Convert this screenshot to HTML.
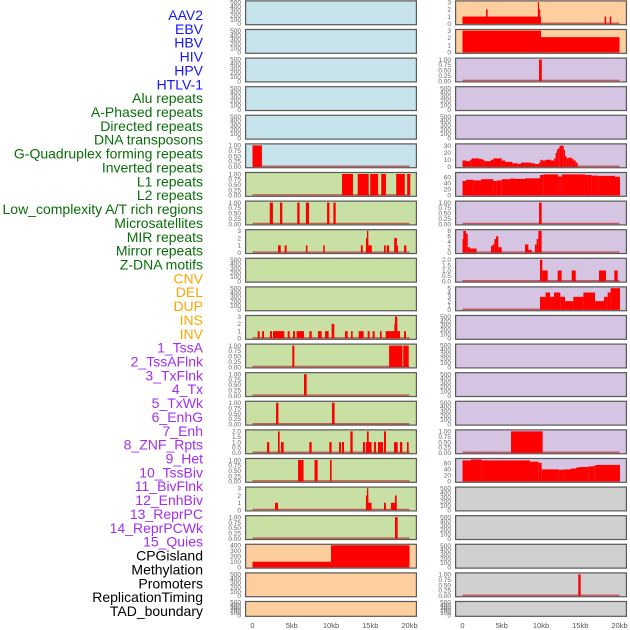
<!DOCTYPE html>
<html><head><meta charset="utf-8">
<style>
html,body{margin:0;padding:0;background:#fff;}
#chart{position:absolute;left:0;top:0;width:630px;height:630px;}
</style></head>
<body>
<svg id="chart" width="630" height="630" xmlns="http://www.w3.org/2000/svg"></svg>
<script>
// ---- labels ----
const trackLabels = ["AAV2","EBV","HBV","HIV","HPV","HTLV-1","Alu repeats","A-Phased repeats","Directed repeats","DNA transposons","G-Quadruplex forming repeats","Inverted repeats","L1 repeats","L2 repeats","Low_complexity A/T rich regions","Microsatellites","MIR repeats","Mirror repeats","Z-DNA motifs","CNV","DEL","DUP","INS","INV","1_TssA","2_TssAFlnk","3_TxFlnk","4_Tx","5_TxWk","6_EnhG","7_Enh","8_ZNF_Rpts","9_Het","10_TssBiv","11_BivFlnk","12_EnhBiv","13_ReprPC","14_ReprPCWk","15_Quies","CPGisland","Methylation","Promoters","ReplicationTiming","TAD_boundary"];
const labelGroups = ["v","v","v","v","v","v","r","r","r","r","r","r","r","r","r","r","r","r","r","s","s","s","s","s","c","c","c","c","c","c","c","c","c","c","c","c","c","c","c","o","o","o","o","o"];
const xTickValues = [0,5,10,15,20];
const xTickLabels = ["0","5kb","10kb","15kb","20kb"];

// ---- series (start kb, end kb, value) ----
const leftGq = [[0,1.2,1]];
const leftL1 = [[11.4,12.8,1],[13.4,14.8,1],[15,16,1],[16.4,17,1],[18.3,19.4,1],[19.7,20.1,1]];
const leftLowAT = [[2.2,2.6,1],[3.5,3.8,1],[5.7,6.0,1],[6.8,7.2,1],[9.5,9.8,1],[10.3,10.6,1]];
const leftMir = [[3.25,3.6,1],[4.1,4.35,1],[6.8,7.0,1],[9.0,9.2,1],[13.8,14.05,1],[14.45,14.75,2],[14.58,14.75,3],[14.75,15.2,1],[16.75,16.97,1],[17.1,17.4,1],[18.05,18.4,2],[18.4,18.5,1],[19.3,19.6,1]];
const leftZdna = [[0.66,0.91,1],[1.22,1.47,1],[2.23,2.48,1],[2.61,4.05,1],[4.48,4.73,1],[5.16,5.41,1],[5.62,6.56,1],[7.24,7.54,1],[8.34,8.81,1],[9.24,9.7,1],[10.08,10.42,2],[11.78,12.12,1],[12.55,12.76,1],[13.52,14.16,1],[14.67,14.92,1],[15.3,15.56,1],[16.24,16.45,1],[16.96,18.79,1],[18.07,18.37,2],[18.15,18.45,3],[19.3,19.55,1]];
const leftRow12 = [[5.07,5.33,1],[17.4,19.1,1],[19.2,19.9,1]];
const leftRow13 = [[6.56,6.9,1]];
const leftRow14 = [[3.0,3.3,1],[10.12,10.46,1]];
const leftRow15 = [[1.85,2.14,1],[3.25,3.46,2],[3.63,3.97,1],[7.24,7.54,1],[9.79,10.08,1],[11.02,11.27,1],[11.4,11.66,1],[12.46,12.76,2],[14.07,14.33,1],[14.45,15.17,1],[14.58,14.8,2],[15.47,15.73,1],[15.98,16.62,1],[16.75,17.0,2],[18.03,18.49,1],[18.79,19.08,1],[19.68,19.89,1]];
const leftRow16 = [[5.8,6.5,1],[7.9,8.3,1],[9.87,10.08,1]];
const leftRow17 = [[2.87,3.25,1],[14.45,14.75,2],[14.58,14.75,3],[14.75,15.17,1],[16.75,17.0,1],[17.64,18.37,1],[18.15,18.37,2]];
const leftRow18 = [[18.15,18.49,1]];
const leftCnv = [[0,10,100],[10,20,400]];

const rightIns = [[0,10,1],[3.0,3.2,2],[9.6,9.75,3],[9.75,9.9,2],[18.1,18.3,1],[18.75,18.95,1]];
const rightInv = [[0,10,3],[10,20,2.1]];
const rightTssA = [[9.75,10.1,1]];
const rightTx = [[0,0.45,9],[0.45,0.96,8],[0.96,1.17,10],[1.17,2.1,12],[2.1,2.53,11],[2.53,2.78,10],[2.78,3.63,8],[3.63,3.93,10],[3.93,4.99,12],[4.99,5.41,9],[5.41,6.35,7],[6.35,7.03,5],[7.03,7.45,4],[7.45,8.72,6],[8.72,9.23,5],[9.23,9.75,4],[9.75,9.92,6],[9.92,10.17,10],[10.17,10.59,9],[10.59,11.27,10],[11.27,11.66,9],[11.66,11.87,12],[11.87,12.04,20],[12.04,12.21,25],[12.21,12.38,27],[12.38,12.89,30],[12.89,13.06,24],[13.06,13.27,15],[13.27,13.48,12],[13.48,13.91,13],[13.91,14.16,11],[14.16,14.42,9],[14.42,14.67,6]];
const rightTxWk = [[0,0.45,48],[0.45,1.38,52],[1.38,2.36,50],[2.36,3.93,54],[3.93,4.35,48],[4.35,4.99,50],[4.99,6.05,54],[6.05,6.69,56],[6.69,7.96,55],[7.96,9.87,57],[9.87,10.3,68],[10.3,12.21,70],[12.21,12.63,63],[12.63,15.6,70],[15.6,16.45,68],[16.45,17.3,66],[17.3,19.43,65],[19.43,20.06,62]];
const rightEnhG = [[9.75,10.08,1]];
const rightEnh = [[0,0.1,5],[0.1,0.45,8],[0.45,0.66,7],[0.66,0.96,2],[0.96,1.8,1.5],[3.63,3.84,2.5],[3.84,4.06,3],[4.06,4.27,5],[4.27,4.56,6],[4.56,4.99,2],[7.96,8.39,3],[8.39,8.81,1],[9.23,9.45,3],[9.45,9.66,5],[9.66,10.08,8]];
const rightZnf = [[9.87,10.17,2],[10.17,10.85,1],[12.12,12.63,1],[13.91,14.42,1],[17.39,18.28,1],[19.34,19.77,1]];
const rightHet = [[9.87,10.59,3],[10.59,11.15,4],[11.15,11.66,3],[11.66,12.46,4],[12.46,13.06,3],[13.06,14.12,2],[14.12,15.4,3],[15.4,16.88,4],[16.88,18.03,2],[18.03,18.49,3],[18.49,18.87,4],[18.87,20.06,5]];
const rightReprPC = [[6.18,10.21,1]];
const rightReprPCWk = [[0,1.08,70],[1.08,2.44,73],[2.44,8.6,70],[8.6,9.66,66],[9.66,10.08,62],[10.08,12.21,40],[12.21,12.85,39],[12.85,13.82,40],[13.82,14.46,43],[14.46,14.84,46],[14.84,16.03,48],[16.03,16.67,50],[16.67,16.96,52],[16.96,20.06,55]];
const rightPromoters = [[14.75,15.05,1]];

const T500 = [0,100,200,300,400,500], T1 = [0,0.25,0.5,0.75,1], T3 = [0,1,2,3], T2 = [0,0.5,1,1.5,2];
const BG = {v:"#c7e3eb", r:"#c8e0a4", s:"#fecf9e", c:"#d5c5e3", o:"#d0d0d0"};
// [col,row,bg,ymax,ticks,decimals,series,baseline]
const panels = [
 [0,0,"v",520,T500,0,null],[0,1,"v",520,T500,0,null],[0,2,"v",520,T500,0,null],[0,3,"v",520,T500,0,null],[0,4,"v",520,T500,0,null],
 [0,5,"v",1.05,T1,2,leftGq],[0,6,"r",1.05,T1,2,leftL1],[0,7,"r",1.05,T1,2,leftLowAT],[0,8,"r",3.1,T3,0,leftMir],
 [0,9,"r",520,T500,0,null],[0,10,"r",520,T500,0,null],[0,11,"r",3.1,T3,0,leftZdna],[0,12,"r",1.05,T1,2,leftRow12],
 [0,13,"r",1.05,T1,2,leftRow13],[0,14,"r",1.05,T1,2,leftRow14],[0,15,"r",2.1,T2,1,leftRow15],[0,16,"r",1.05,T1,2,leftRow16],
 [0,17,"r",3.1,T3,0,leftRow17],[0,18,"r",1.05,T1,2,leftRow18],[0,19,"s",410,[0,100,200,300,400],0,leftCnv],
 [0,20,"s",520,T500,0,null],[0,21,"s",520,T500,0,null],
 [1,0,"s",3.1,T3,0,rightIns],[1,1,"s",3.1,T3,0,rightInv],[1,2,"c",1.05,T1,2,rightTssA],[1,3,"c",520,T500,0,null],[1,4,"c",520,T500,0,null],
 [1,5,"c",32,[0,10,20,30],0,rightTx],[1,6,"c",75,[0,20,40,60],0,rightTxWk],[1,7,"c",1.05,T1,2,rightEnhG],[1,8,"c",8.3,[0,2,4,6,8],0,rightEnh],
 [1,9,"c",2.1,T2,1,rightZnf],[1,10,"c",5.2,[0,1,2,3,4,5],0,rightHet],[1,11,"c",520,T500,0,null],[1,12,"c",520,T500,0,null],
 [1,13,"c",520,T500,0,null],[1,14,"c",520,T500,0,null],[1,15,"c",1.05,T1,2,rightReprPC],[1,16,"c",75,[0,20,40,60],0,rightReprPCWk],
 [1,17,"o",520,T500,0,null],[1,18,"o",520,T500,0,null],[1,19,"o",520,T500,0,null],[1,20,"o",1.05,T1,2,rightPromoters],[1,21,"o",520,T500,0,null]
];

const NS = "http://www.w3.org/2000/svg";
const svg = document.getElementById("chart");
function mk(tag, attrs, parent){const e=document.createElementNS(NS,tag);for(const k in attrs)e.setAttribute(k,attrs[k]);(parent||svg).appendChild(e);return e;}
const COLX = [245,455], PW = 172;
function xScale(col,kb){return COLX[col]+7.5+7.85*kb;}

// labels
const LCOL = {v:"#1515ff", r:"#0a6e0a", s:"#ffa500", c:"#a22ef0", o:"#000"};
trackLabels.forEach((t,i)=>{
  const e = mk("text",{x:203,y:15+13.86*i+5,"text-anchor":"end","font-family":"Liberation Sans, sans-serif","font-size":"14",fill:LCOL[labelGroups[i]]});
  e.textContent = t;
  
  
});

panels.forEach(p=>{
  const [col,row,bg,ymax,ticks,dec,series] = p;
  const top = 28.6*row + 0.3, h = row===21 ? 16 : 25;
  const g = mk("g",{});
  
  
  const x0 = COLX[col];
  const r = mk("rect",{x:x0,y:top,width:PW,height:h,fill:BG[bg]},g);
  
  
  const yb = top+h-1.5, yt = top+1;
  const yS = v => yb - v/ymax*(yb-yt);
  ticks.forEach(tv=>{
    const t = mk("text",{x:x0-4,y:yS(tv)+2.3,"text-anchor":"end","font-family":"Liberation Sans, sans-serif","font-size":"6.5",fill:"#666"},g);
    t.textContent = tv.toFixed(dec);
    
    
  });
  if(series){
    const bl = mk("line",{x1:xScale(col,0),x2:xScale(col,20),y1:yb-0.5,y2:yb-0.5,stroke:"#c04040","stroke-width":1.5,"stroke-opacity":0.8},g);
    
    
    series.forEach(s=>{
      const xa = xScale(col,s[0]), xb = xScale(col,s[1]);
      const b = mk("rect",{x:xa,y:yS(s[2]),width:Math.max(1,xb-xa),height:yb-yS(s[2]),fill:"#ff0000"},g);
      
      
    });
  }
  const f = mk("rect",{x:x0+0.6,y:top+0.6,width:PW-1.2,height:h-1.2,fill:"none",stroke:"#5a5a5a","stroke-width":1.2},g);
  
  
});

// x axes
[0,1].forEach(col=>{
  xTickValues.forEach((v,i)=>{
    const t = mk("text",{x:xScale(col,v),y:628,"text-anchor":"middle","font-family":"Liberation Sans, sans-serif","font-size":"7.5",fill:"#555"});
    t.textContent = xTickLabels[i];
    
    
  });
});
</script>
</body></html>
